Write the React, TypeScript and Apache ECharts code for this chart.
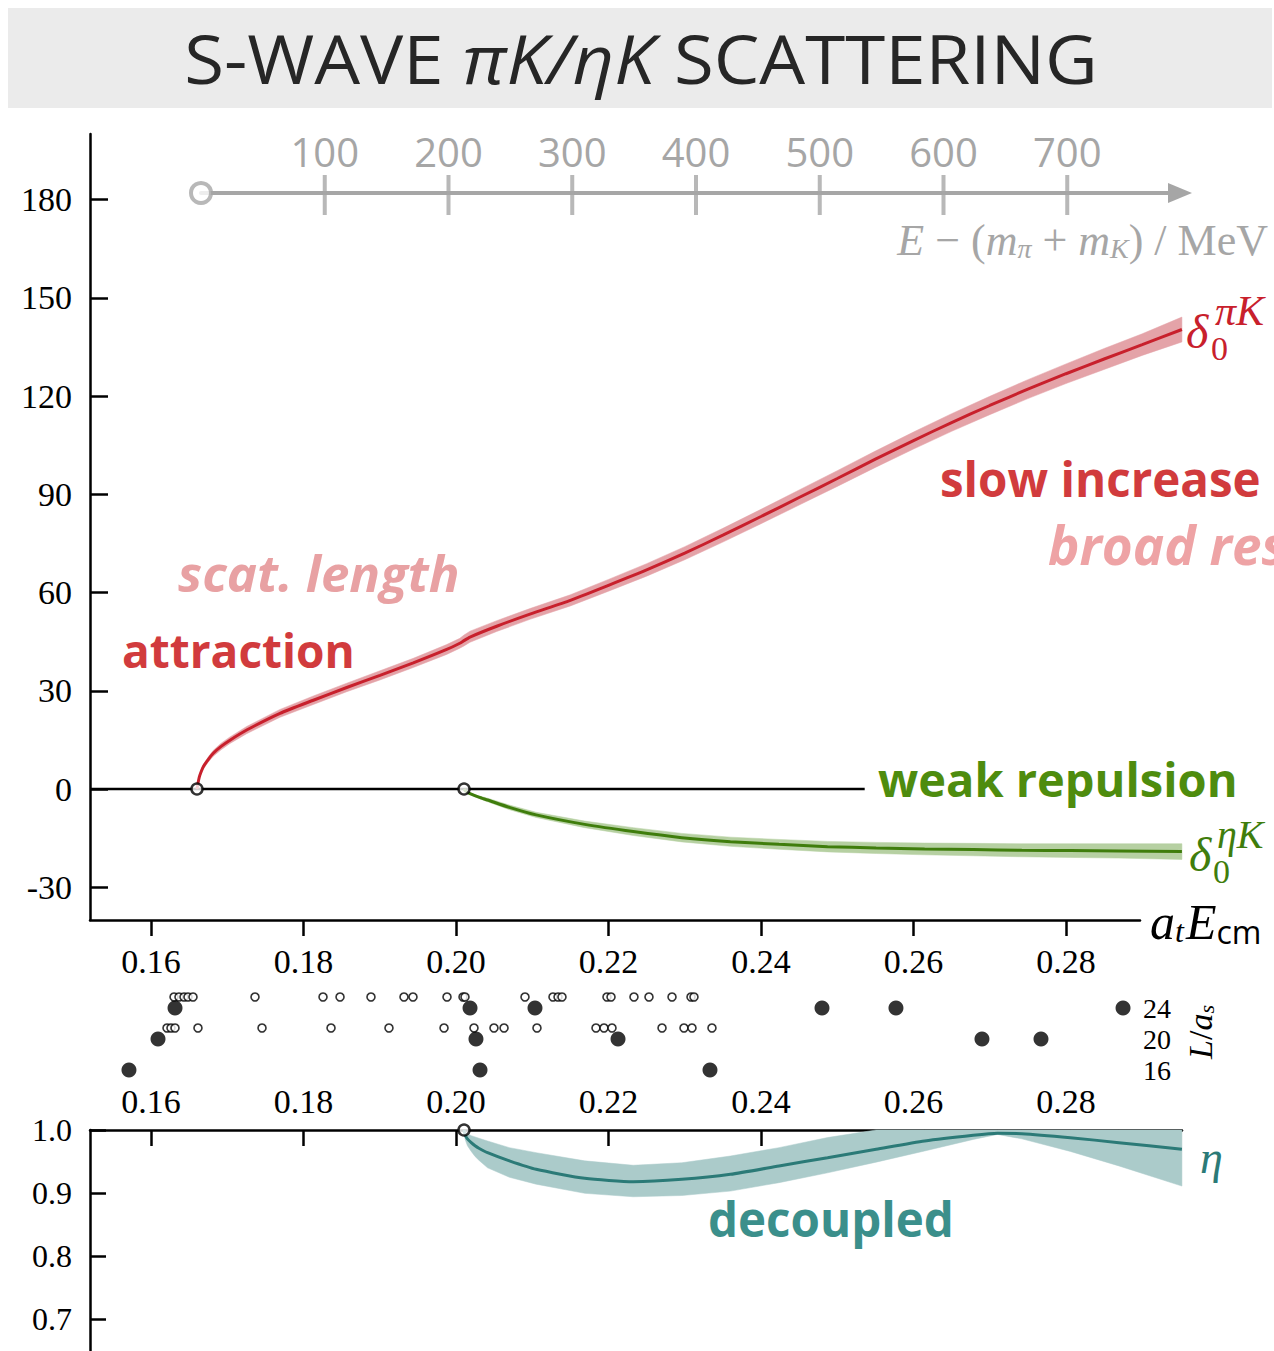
import React, { useEffect, useRef } from "react";
import * as echarts from "echarts";

// ---- axis ticks -------------------------------------------------------------
const X_TICKS = [0.16, 0.18, 0.2, 0.22, 0.24, 0.26, 0.28];
const PHASE_TICKS = [-30, 0, 30, 60, 90, 120, 150, 180];
const ETA_TICKS = [0.7, 0.8, 0.9, 1.0];
const ENERGY_TICKS = [100, 200, 300, 400, 500, 600, 700];
const L_VALUES = [16, 20, 24];

// ---- thresholds (a_t E_cm) -----------------------------------------------------
const PIK_THRESHOLD = 0.16603;
const ETAK_THRESHOLD = 0.20105;
const ZERO_LINE_END = 0.2536;

// ---- delta_0^{piK} ---------------------------------------------------------------
const PIK_X = [
  0.16603, 0.16615, 0.16634, 0.1666, 0.16686, 0.1675, 0.16817, 0.1692, 0.17036, 0.17255,
  0.17692, 0.18129, 0.18567, 0.19003, 0.1944, 0.19878, 0.2005, 0.20105, 0.20184, 0.20534,
  0.2097, 0.215, 0.22, 0.225, 0.23, 0.235, 0.24, 0.245, 0.25, 0.255,
  0.26, 0.265, 0.27, 0.275, 0.28, 0.285, 0.29, 0.2952,
];
const PIK_MID = [
  0, 1.6, 3.7, 5.4, 6.8, 9.0, 10.9, 13.0, 14.9, 18.0,
  23.1, 27.1, 31.0, 34.7, 38.5, 42.6, 44.5, 45.3, 46.4, 49.7,
  53.4, 57.6, 62.2, 66.9, 72.0, 77.5, 83.2, 89.0, 94.8, 100.7,
  106.4, 111.9, 117.1, 122.1, 126.8, 131.3, 135.7, 140.3,
];
const PIK_LO = [
  0, 1.3, 3.2, 4.8, 6.1, 8.2, 10.0, 12.0, 13.9, 16.9,
  21.9, 25.8, 29.7, 33.3, 37.1, 41.1, 43.0, 43.7, 44.8, 48.1,
  51.8, 55.9, 60.4, 65.0, 70.0, 75.4, 81.0, 86.7, 92.4, 98.2,
  103.8, 109.2, 114.3, 119.2, 123.8, 128.1, 132.4, 136.5,
];
const PIK_HI = [
  0, 1.9, 4.2, 6.0, 7.5, 9.8, 11.8, 14.0, 15.9, 19.1,
  24.3, 28.4, 32.3, 36.1, 39.9, 44.1, 46.0, 47.0, 48.2, 51.4,
  55.1, 59.3, 64.0, 68.8, 74.0, 79.6, 85.4, 91.3, 97.2, 103.2,
  109.0, 114.6, 119.9, 125.0, 129.8, 134.5, 139.0, 144.1,
];

// ---- delta_0^{etaK} --------------------------------------------------------------
const ETAK_X = [
  0.20105, 0.2012, 0.2015, 0.202, 0.203, 0.20414, 0.207, 0.21051, 0.21688, 0.22325,
  0.22962, 0.23599, 0.24236, 0.24873, 0.2551, 0.26146, 0.26783, 0.2742, 0.28057, 0.28694, 0.2952,
];
const ETAK_MID = [
  0, -0.5, -1.0, -1.6, -2.5, -3.36, -5.6, -7.9, -10.8, -13.0,
  -14.85, -16.1, -16.9, -17.6, -18.0, -18.3, -18.5, -18.7, -18.8, -18.9, -19.1,
];
const ETAK_LO = [
  0, -0.6, -1.2, -1.9, -2.9, -3.9, -6.3, -8.7, -11.8, -14.2,
  -16.15, -17.5, -18.4, -19.2, -19.7, -20.1, -20.4, -20.7, -20.9, -21.1, -21.5,
];
const ETAK_HI = [
  0, -0.4, -0.8, -1.3, -2.1, -2.8, -4.9, -7.1, -9.8, -11.8,
  -13.55, -14.7, -15.4, -16.0, -16.3, -16.5, -16.6, -16.7, -16.7, -16.7, -16.7,
];

// ---- inelasticity eta ------------------------------------------------------------
const INEL_X = [
  0.20105, 0.2012, 0.2015, 0.202, 0.2025, 0.203, 0.20414, 0.207, 0.21051, 0.21688,
  0.22325, 0.22962, 0.23599, 0.24236, 0.24873, 0.2551, 0.26146, 0.26783, 0.27102, 0.2742,
  0.28057, 0.28694, 0.2952,
];
const INEL_MID = [
  1.0, 0.992, 0.986, 0.98, 0.975, 0.971, 0.964, 0.951, 0.9376, 0.9233,
  0.918, 0.9217, 0.9296, 0.9429, 0.956, 0.9693, 0.9825, 0.9915, 0.9947, 0.9942,
  0.9878, 0.9799, 0.9693,
];
const INEL_LO = [
  1.0, 0.985, 0.975, 0.966, 0.958, 0.952, 0.94, 0.925, 0.914, 0.8995,
  0.894, 0.896, 0.903, 0.9164, 0.932, 0.949, 0.9667, 0.985, 0.993, 0.986,
  0.966, 0.943, 0.911,
];
const INEL_HI = [
  1.0, 0.997, 0.994, 0.991, 0.989, 0.987, 0.9825, 0.972, 0.964, 0.951,
  0.944, 0.948, 0.9587, 0.972, 0.988, 1.0, 1.0, 1.0, 1.0, 1.0,
  1.0, 1.0, 1.0,
];

// ---- finite-volume energy levels (a_t E_cm) by L/a_s --------------------------
const LEVELS_24 = [0.16315, 0.20184, 0.21036, 0.248, 0.2577, 0.28748];
const LEVELS_20 = [0.16092, 0.20262, 0.22125, 0.26898, 0.27672];
const LEVELS_16 = [0.15711, 0.20315, 0.23331];

// non-interacting energies
const FREE_24 = [
  0.16302, 0.16367, 0.16433, 0.16485, 0.16551, 0.17364, 0.18256, 0.18479, 0.18885, 0.19318,
  0.19436, 0.19882, 0.20092, 0.20118, 0.20905, 0.21272, 0.21338, 0.2139, 0.2198, 0.22033,
  0.22334, 0.22531, 0.22833, 0.23082, 0.23121,
];
const FREE_20 = [
  0.1621, 0.16262, 0.16315, 0.16616, 0.17456, 0.18361, 0.19121, 0.19843, 0.20236, 0.20498,
  0.2063, 0.21062, 0.21836, 0.21941, 0.22046, 0.22702, 0.2299, 0.23095, 0.23357,
];

// ---- layout ---------------------------------------------------------------------
const W = 1274;
const H = 1351;
const X_MIN = 0.152;
const PX_PER_UNIT = 7625; // pixels per unit of a_t E_cm
const PLOT_LEFT = 90;
const xMaxFor = (width: number) => X_MIN + width / PX_PER_UNIT;
const MEV_PX = 1.2375; // pixels per MeV on the energy arrow
const ARROW_LEN = 979;

const SERIF = '"Liberation Serif", "DejaVu Serif", serif';
const SANS = '"Open Sans", "Noto Sans", sans-serif';

const RED = "#c8202c";
const RED_BAND = "#e4a3a8";
const GREEN = "#3f7d0c";
const GREEN_BAND = "#b6d0a2";
const TEAL = "#2b7a77";
const TEAL_BAND = "#abcbca";
const GRAY = "#a6a6a6";

const pairs = (xs: number[], ys: number[]) => xs.map((x, i) => [x, ys[i]]);

// error band: polygon through the upper edge and back along the lower edge
function band(name: string, xs: number[], lo: number[], hi: number[], color: string, xi: number, yi: number) {
  return {
    name,
    type: "custom",
    coordinateSystem: "cartesian2d",
    xAxisIndex: xi,
    yAxisIndex: yi,
    data: [[xs[0], lo[0]]],
    silent: true,
    z: 2,
    renderItem: (_params: any, api: any) => {
      const upper = xs.map((x, i) => api.coord([x, hi[i]]));
      const lower = xs.map((x, i) => api.coord([x, lo[i]])).reverse();
      return {
        type: "polygon",
        shape: { points: upper.concat(lower) },
        style: { fill: color, stroke: color, lineWidth: 0.5 },
      };
    },
  };
}

function curve(name: string, xs: number[], ys: number[], color: string, xi: number, yi: number) {
  return {
    name,
    type: "line",
    xAxisIndex: xi,
    yAxisIndex: yi,
    data: pairs(xs, ys),
    symbol: "none",
    smooth: 0.2,
    lineStyle: { color, width: 3 },
    z: 3,
  };
}

const openCircle = (color: string, width: number) => ({
  color: "#ffffff",
  borderColor: color,
  borderWidth: width,
});

// math-style label piece: tight line box so stacked indices sit close to the symbol
const mathText = (x: number, y: number, text: string, size: number, fill: string, italic: boolean) => ({
  type: "text",
  x,
  y,
  style: {
    text,
    fontFamily: SERIF,
    fontStyle: italic ? "italic" : "normal",
    fontSize: size,
    lineHeight: Math.round(size * 0.7),
    fill,
    verticalAlign: "middle",
  },
});

function buildOption(): any {
  const blackLine = { lineStyle: { color: "#000", width: 2.5 } };
  const serifLabel = (size: number) => ({ color: "#000", fontFamily: SERIF, fontSize: size });

  return {
    animation: false,
    backgroundColor: "#ffffff",
    grid: [
      { left: PLOT_LEFT, top: 134, width: 1050, height: 786 },
      { left: PLOT_LEFT, top: 134, width: 1092, height: 786 },
      { left: PLOT_LEFT, top: 977, width: 1045, height: 124 },
      { left: PLOT_LEFT, top: 1130, width: 1092, height: 220.5 },
      { left: 201, top: 193, width: ARROW_LEN, height: 20 },
    ],
    xAxis: [
      {
        gridIndex: 0,
        type: "value",
        min: X_MIN,
        max: xMaxFor(1050),
        position: "bottom",
        axisLine: { show: true, onZero: false, ...blackLine },
        axisTick: { show: true, inside: false, length: 16, customValues: X_TICKS, lineStyle: { color: "#000", width: 2.5 } },
        axisLabel: { customValues: X_TICKS, formatter: (v: number) => v.toFixed(2), margin: 24, ...serifLabel(34) },
        splitLine: { show: false },
      },
      { gridIndex: 1, type: "value", min: X_MIN, max: xMaxFor(1092), show: false },
      { gridIndex: 2, type: "value", min: X_MIN, max: xMaxFor(1045), show: false },
      {
        gridIndex: 3,
        type: "value",
        min: X_MIN,
        max: xMaxFor(1092),
        position: "top",
        axisLine: { show: true, onZero: false, ...blackLine },
        axisTick: { show: true, inside: true, length: 16, customValues: X_TICKS, lineStyle: { color: "#000", width: 2.5 } },
        axisLabel: { customValues: X_TICKS, formatter: (v: number) => v.toFixed(2), margin: 12, ...serifLabel(34) },
        splitLine: { show: false },
      },
      {
        gridIndex: 4,
        type: "value",
        min: 0,
        max: ARROW_LEN / MEV_PX,
        position: "top",
        axisLine: {
          show: true,
          onZero: false,
          symbol: ["none", "triangle"],
          symbolSize: [20, 24],
          lineStyle: { color: GRAY, width: 4 },
        },
        axisTick: { show: false },
        axisLabel: { customValues: ENERGY_TICKS, margin: 22, color: GRAY, fontFamily: SANS, fontSize: 40 },
        splitLine: { show: false },
      },
    ],
    yAxis: [
      {
        gridIndex: 0,
        type: "value",
        min: -40,
        max: 200,
        axisLine: { show: true, onZero: false, ...blackLine },
        axisTick: { show: true, inside: true, length: 18, customValues: PHASE_TICKS, lineStyle: { color: "#000", width: 2.5 } },
        axisLabel: { customValues: PHASE_TICKS, margin: 18, ...serifLabel(34) },
        splitLine: { show: false },
      },
      { gridIndex: 1, type: "value", min: -40, max: 200, show: false },
      {
        gridIndex: 2,
        type: "value",
        min: 12,
        max: 28,
        position: "right",
        axisLine: { show: false },
        axisTick: { show: false },
        axisLabel: { customValues: L_VALUES, margin: 8, ...serifLabel(28) },
        splitLine: { show: false },
      },
      {
        gridIndex: 3,
        type: "value",
        min: 0.65,
        max: 1.0,
        axisLine: { show: true, onZero: false, ...blackLine },
        axisTick: { show: true, inside: true, length: 16, customValues: ETA_TICKS, lineStyle: { color: "#000", width: 2.5 } },
        axisLabel: { customValues: ETA_TICKS, formatter: (v: number) => v.toFixed(1), margin: 18, ...serifLabel(32) },
        splitLine: { show: false },
      },
      { gridIndex: 4, type: "value", min: 0, max: 1, show: false },
    ],
    series: [
      // zero line of the phase-shift panel
      {
        name: "zero",
        type: "line",
        xAxisIndex: 1,
        yAxisIndex: 1,
        data: [[X_MIN, 0], [ZERO_LINE_END, 0]],
        symbol: "none",
        lineStyle: { color: "#000", width: 2.5 },
        z: 1,
      },
      band("pik band", PIK_X, PIK_LO, PIK_HI, RED_BAND, 1, 1),
      curve("delta0 piK", PIK_X, PIK_MID, RED, 1, 1),
      band("etak band", ETAK_X, ETAK_LO, ETAK_HI, GREEN_BAND, 1, 1),
      curve("delta0 etaK", ETAK_X, ETAK_MID, GREEN, 1, 1),
      {
        name: "thresholds",
        type: "scatter",
        xAxisIndex: 1,
        yAxisIndex: 1,
        data: [[PIK_THRESHOLD, 0], [ETAK_THRESHOLD, 0]],
        symbolSize: 11,
        itemStyle: openCircle("#000", 2.5),
        z: 6,
      },
      // finite-volume spectra
      {
        name: "free levels",
        type: "scatter",
        xAxisIndex: 2,
        yAxisIndex: 2,
        data: [...FREE_24.map((x) => [x, 24]), ...FREE_20.map((x) => [x, 20])],
        symbolSize: 8,
        symbolOffset: [0, -11],
        itemStyle: openCircle("#000", 1.6),
        z: 3,
      },
      {
        name: "levels",
        type: "scatter",
        xAxisIndex: 2,
        yAxisIndex: 2,
        data: [
          ...LEVELS_24.map((x) => [x, 24]),
          ...LEVELS_20.map((x) => [x, 20]),
          ...LEVELS_16.map((x) => [x, 16]),
        ],
        symbolSize: 15,
        itemStyle: { color: "#000" },
        z: 4,
      },
      // inelasticity
      band("eta band", INEL_X, INEL_LO, INEL_HI, TEAL_BAND, 3, 3),
      curve("eta", INEL_X, INEL_MID, TEAL, 3, 3),
      {
        name: "eta threshold",
        type: "scatter",
        xAxisIndex: 3,
        yAxisIndex: 3,
        data: [[ETAK_THRESHOLD, 1.0]],
        symbolSize: 11,
        itemStyle: openCircle("#000", 2.5),
        z: 6,
      },
      // energy arrow
      {
        name: "energy ticks",
        type: "scatter",
        xAxisIndex: 4,
        yAxisIndex: 4,
        data: ENERGY_TICKS.map((e) => [e, 1]),
        symbol: "rect",
        symbolSize: [4, 40],
        symbolOffset: [0, 2],
        itemStyle: { color: GRAY },
        z: 3,
      },
      {
        name: "energy origin",
        type: "scatter",
        xAxisIndex: 4,
        yAxisIndex: 4,
        data: [[0, 1]],
        symbolSize: 20,
        itemStyle: openCircle(GRAY, 4),
        z: 4,
      },
    ],
    graphic: [
      { type: "rect", shape: { x: 8, y: 8, width: 1264, height: 100 }, style: { fill: "#ebebeb" }, z: 0 },
      {
        type: "text",
        x: 641,
        y: 58,
        scaleX: 1.067,
        style: {
          text: "{n|S-WAVE }{i|πK/ηK}{n| SCATTERING}",
          align: "center",
          verticalAlign: "middle",
          rich: {
            n: { fontFamily: SANS, fontSize: 68, fill: "#262626" },
            i: { fontFamily: SANS, fontSize: 68, fontStyle: "italic", fill: "#262626" },
          },
        },
      },
      // energy axis title
      {
        type: "text",
        x: 1268,
        y: 240,
        style: {
          text: "{i|E}{r| − (}{i|m}{s|π}{r| + }{i|m}{s|K}{r|) / MeV}",
          align: "right",
          verticalAlign: "middle",
          rich: {
            i: { fontFamily: SERIF, fontStyle: "italic", fontSize: 44, fill: GRAY },
            r: { fontFamily: SERIF, fontSize: 44, fill: GRAY },
            s: { fontFamily: SERIF, fontStyle: "italic", fontSize: 28, fill: GRAY, verticalAlign: "bottom", padding: [16, 0, 0, 0] },
          },
        },
      },
      // annotations
      { type: "text", x: 178, y: 572, style: { text: "scat. length", fontFamily: SANS, fontWeight: "bold", fontStyle: "italic", fontSize: 51, fill: "#e8a1a3", verticalAlign: "middle" } },
      { type: "text", x: 122, y: 650, style: { text: "attraction", fontFamily: SANS, fontWeight: "bold", fontSize: 46, fill: "#d13b3d", verticalAlign: "middle" } },
      { type: "text", x: 940, y: 478, style: { text: "slow increase", fontFamily: SANS, fontWeight: "bold", fontSize: 47.5, fill: "#d13b3d", verticalAlign: "middle" } },
      { type: "text", x: 1048, y: 544, style: { text: "broad res", fontFamily: SANS, fontWeight: "bold", fontStyle: "italic", fontSize: 53, fill: "#eea3a5", verticalAlign: "middle" } },
      { type: "text", x: 878, y: 779, style: { text: "weak repulsion", fontFamily: SANS, fontWeight: "bold", fontSize: 47, fill: "#4e8c0e", verticalAlign: "middle" } },
      { type: "text", x: 708, y: 1218, style: { text: "decoupled", fontFamily: SANS, fontWeight: "bold", fontSize: 47.5, fill: "#3b8f8b", verticalAlign: "middle" } },
      // curve labels
      mathText(1186, 331, "δ", 48, RED, true),
      mathText(1215, 311, "πK", 42, RED, true),
      mathText(1211, 348, "0", 34, RED, false),
      mathText(1189, 854, "δ", 48, GREEN, true),
      mathText(1217, 834, "ηK", 40, GREEN, true),
      mathText(1213, 871, "0", 34, GREEN, false),
      mathText(1200, 1157, "η", 46, TEAL, true),
      // x-axis title
      {
        type: "text",
        x: 1150,
        y: 922,
        style: {
          text: "{i|a}{t|t}{i|E}{c|cm}",
          verticalAlign: "middle",
          rich: {
            i: { fontFamily: SERIF, fontStyle: "italic", fontSize: 50, fill: "#000" },
            t: { fontFamily: SERIF, fontStyle: "italic", fontSize: 32, fill: "#000", verticalAlign: "bottom", padding: [18, 2, 0, 0] },
            c: { fontFamily: SANS, fontSize: 32, fill: "#000", verticalAlign: "bottom", padding: [18, 0, 0, 0] },
          },
        },
      },
      // L/a_s label
      {
        type: "text",
        x: 1200,
        y: 1032,
        rotation: Math.PI / 2,
        style: {
          text: "{i|L}{r|/}{i|a}{s|s}",
          align: "center",
          verticalAlign: "middle",
          rich: {
            i: { fontFamily: SERIF, fontStyle: "italic", fontSize: 34, fill: "#000" },
            r: { fontFamily: SERIF, fontSize: 34, fill: "#000" },
            s: { fontFamily: SERIF, fontStyle: "italic", fontSize: 22, fill: "#000", verticalAlign: "bottom", padding: [12, 0, 0, 0] },
          },
        },
      },
    ],
  };
}

export default function App() {
  const ref = useRef<HTMLDivElement>(null);
  useEffect(() => {
    document.body.style.margin = "0";
    if (!ref.current) return;
    const chart = echarts.init(ref.current, undefined, { renderer: "svg", width: W, height: H });
    chart.setOption(buildOption());
    return () => chart.dispose();
  }, []);
  return <div ref={ref} style={{ width: W, height: H }} />;
}
